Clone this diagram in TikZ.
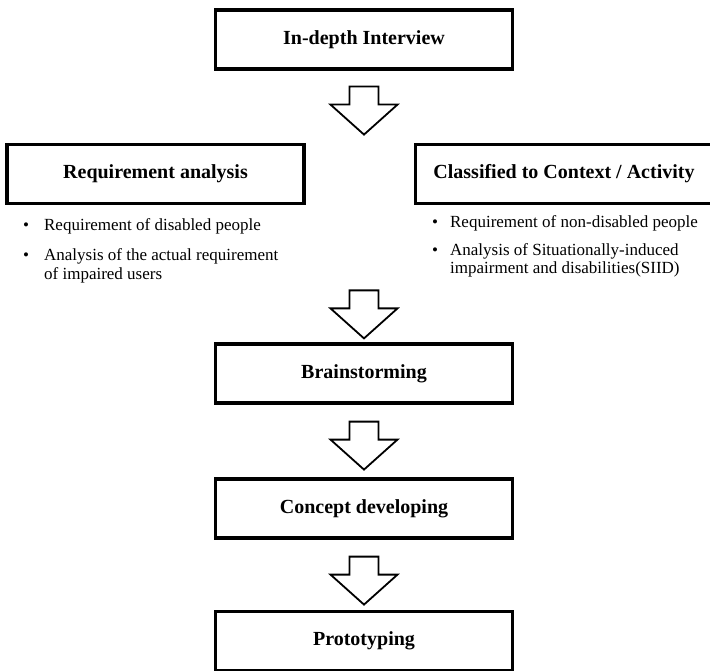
\documentclass[tikz,border=0pt]{standalone}
\usepackage{fontspec}
\setmainfont{Liberation Serif}
\usetikzlibrary{calc}
\tikzset{
  stage/.style={draw=black, line width=3.2pt, fill=white, minimum width=297pt,
              minimum height=59pt, inner sep=0pt, font=\fontsize{20}{24}\selectfont\bfseries},
  notes/.style={anchor=base west, inner sep=0pt, font=\fontsize{17}{18.5}\selectfont},
  blockarrow/.pic={
    \draw[line width=1.8pt, line join=miter, fill=white]
      (-14.5,0) -- (14.5,0) -- (14.5,18) -- (33.5,18) -- (0,48)
      -- (-33.5,18) -- (-14.5,18) -- cycle;
  },
}

\begin{document}
\begin{tikzpicture}[x=1pt, y=-1pt]
        \useasboundingbox (0,0) rectangle (710,671);
        % stages
        \node[stage] (interview) at (364,39.5)  {In-depth Interview};
        \node[stage] (reqa)      at (155.5,174) {Requirement analysis};
        \node[stage] (ctx)       at (564,174)   {Classified to Context / Activity};
        \node[stage] (brain)     at (364,373.5) {Brainstorming};
        \node[stage] (concept)   at (364,508.5) {Concept developing};
        \node[stage] (proto)     at (364,641)   {Prototyping};
        % notes under the two branches
        \node[notes] (reqnotes) at (23,231) {\begin{tabular}[t]{@{}l@{\hspace{15pt}}l@{}}
            \textbullet & Requirement of disabled people\\[11.5pt]
            \textbullet & Analysis of the actual requirement\\
                        & of impaired users
          \end{tabular}};
        \node[notes] (ctxnotes) at (432,228) {\begin{tabular}[t]{@{}l@{\hspace{12pt}}l@{}}
            \textbullet & Requirement of non-disabled people\\[9pt]
            \textbullet & Analysis of Situationally-induced\\
                        & impairment and disabilities(SIID)
          \end{tabular}};
        % block arrows
        \pic at ($(interview.south)+(0,16)$) {blockarrow};
        \pic at ($(brain.north)+(0,-52)$)    {blockarrow};
        \pic at ($(brain.south)+(0,17)$)     {blockarrow};
        \pic at ($(concept.south)+(0,17)$)   {blockarrow};
      \end{tikzpicture}
\end{document}
